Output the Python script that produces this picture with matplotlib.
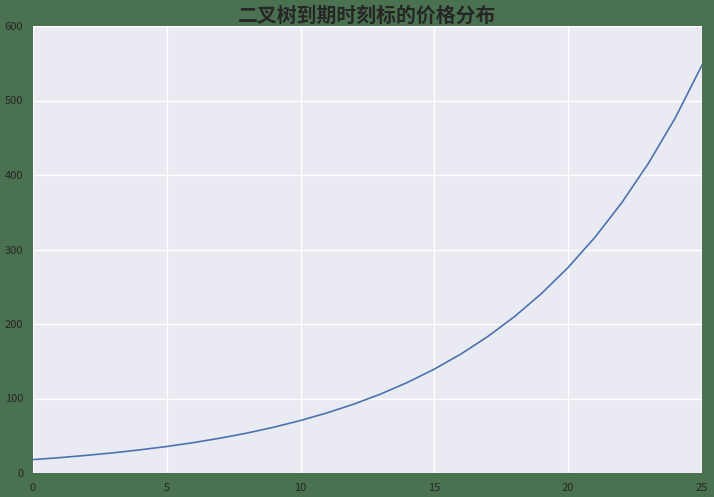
import numpy as np
import matplotlib.pyplot as plt

# terminal nodes of the binomial tree
steps = list(range(26))
prices = [18.0, 20.6, 23.7, 27.1, 31.1, 35.6, 40.8, 46.8, 53.6, 61.5,
          70.5, 80.8, 92.6, 106.1, 121.7, 139.5, 159.9, 183.3, 210.1, 240.8,
          276.0, 316.4, 362.7, 415.8, 476.6, 547.5]
title = "二叉树到期时刻标的价格分布"

plt.rcParams['font.family'] = ['Noto Sans CJK SC', 'DejaVu Sans']

fig = plt.figure(figsize=(7.14, 4.97), dpi=100, facecolor='#4b7250')
ax = fig.add_axes([33 / 714, 24 / 497, 669 / 714, 447 / 497])
ax.set_facecolor('#eaeaf2')
for s in ax.spines.values():
    s.set_visible(False)
ax.grid(True, color='white', linewidth=1.0)
ax.set_axisbelow(True)

ax.plot(steps, prices, color='#4c72b0', linewidth=1.2)

ax.set_xlim(0, 25)
ax.set_ylim(0, 600)
ax.set_xticks([0, 5, 10, 15, 20, 25])
ax.set_yticks([0, 100, 200, 300, 400, 500, 600])
ax.tick_params(length=0, labelsize=8, colors='#262626', pad=7)
ax.set_title(title, fontsize=14.3, fontweight='bold', color='#262626', pad=3)

fig.savefig('out.png', dpi=100, facecolor=fig.get_facecolor())
